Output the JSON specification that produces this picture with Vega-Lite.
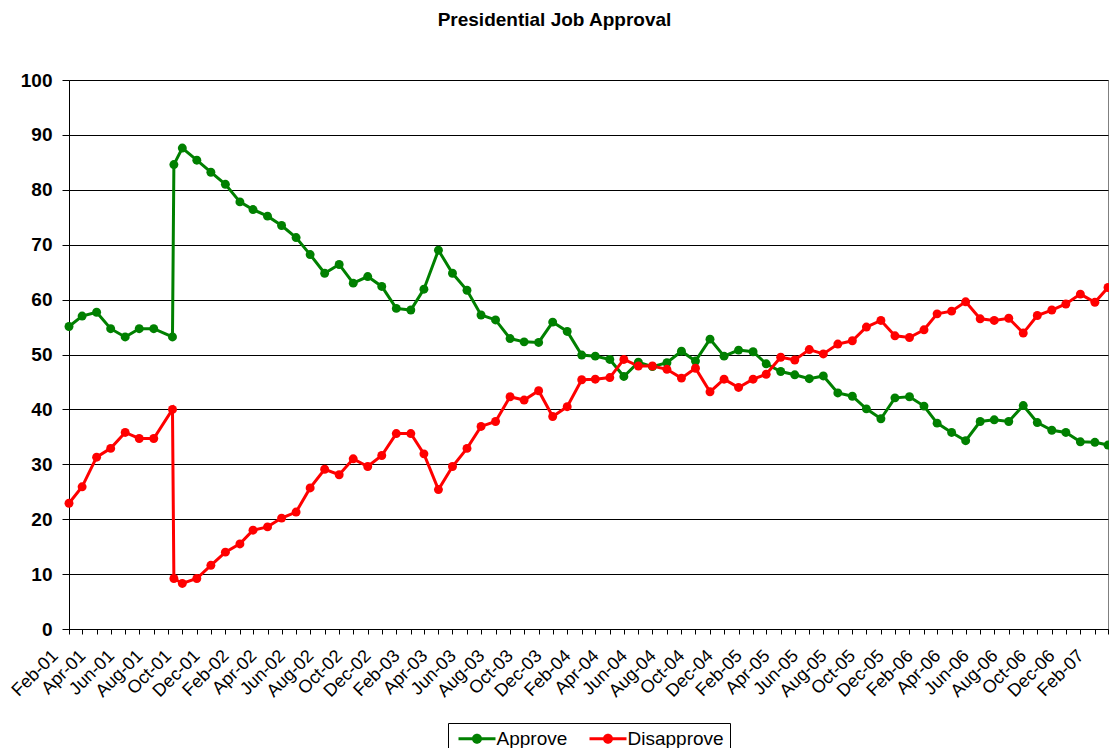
{
  "$schema": "https://vega.github.io/schema/vega-lite/v6.json",
  "autosize": "none",
  "width": 1039,
  "height": 549,
  "padding": {"left": 69, "top": 80, "right": 1, "bottom": 119},
  "background": "white",
  "config": {
    "font": "Liberation Sans",
    "view": {"stroke": "#808080", "strokeWidth": 1}
  },
  "title": {
    "text": "Presidential Job Approval",
    "fontSize": 19,
    "fontWeight": "bold",
    "color": "#000",
    "baseline": "alphabetic",
    "dx": -34,
    "offset": 26
  },
  "data": {
    "values": [
      {"date": "2001-02-01", "Approve": 55.1, "Disapprove": 22.9},
      {"date": "2001-03-01", "Approve": 57.0, "Disapprove": 25.9},
      {"date": "2001-04-01", "Approve": 57.7, "Disapprove": 31.3},
      {"date": "2001-05-01", "Approve": 54.7, "Disapprove": 32.9},
      {"date": "2001-06-01", "Approve": 53.2, "Disapprove": 35.8},
      {"date": "2001-07-01", "Approve": 54.7, "Disapprove": 34.7},
      {"date": "2001-08-01", "Approve": 54.7, "Disapprove": 34.7},
      {"date": "2001-09-10", "Approve": 53.2, "Disapprove": 40.0},
      {"date": "2001-09-13", "Approve": 84.6, "Disapprove": 9.2},
      {"date": "2001-10-01", "Approve": 87.6, "Disapprove": 8.3},
      {"date": "2001-11-01", "Approve": 85.4, "Disapprove": 9.2},
      {"date": "2001-12-01", "Approve": 83.2, "Disapprove": 11.6},
      {"date": "2002-01-01", "Approve": 81.0, "Disapprove": 14.0},
      {"date": "2002-02-01", "Approve": 77.8, "Disapprove": 15.5},
      {"date": "2002-03-01", "Approve": 76.4, "Disapprove": 18.0},
      {"date": "2002-04-01", "Approve": 75.2, "Disapprove": 18.6},
      {"date": "2002-05-01", "Approve": 73.5, "Disapprove": 20.2},
      {"date": "2002-06-01", "Approve": 71.3, "Disapprove": 21.3},
      {"date": "2002-07-01", "Approve": 68.2, "Disapprove": 25.7},
      {"date": "2002-08-01", "Approve": 64.8, "Disapprove": 29.1},
      {"date": "2002-09-01", "Approve": 66.4, "Disapprove": 28.1},
      {"date": "2002-10-01", "Approve": 63.0, "Disapprove": 31.0},
      {"date": "2002-11-01", "Approve": 64.2, "Disapprove": 29.6},
      {"date": "2002-12-01", "Approve": 62.4, "Disapprove": 31.6},
      {"date": "2003-01-01", "Approve": 58.4, "Disapprove": 35.6},
      {"date": "2003-02-01", "Approve": 58.1, "Disapprove": 35.6},
      {"date": "2003-03-01", "Approve": 61.9, "Disapprove": 31.9},
      {"date": "2003-04-01", "Approve": 69.0, "Disapprove": 25.4},
      {"date": "2003-05-01", "Approve": 64.8, "Disapprove": 29.6},
      {"date": "2003-06-01", "Approve": 61.7, "Disapprove": 32.9},
      {"date": "2003-07-01", "Approve": 57.2, "Disapprove": 36.9},
      {"date": "2003-08-01", "Approve": 56.3, "Disapprove": 37.8},
      {"date": "2003-09-01", "Approve": 52.9, "Disapprove": 42.3},
      {"date": "2003-10-01", "Approve": 52.3, "Disapprove": 41.7},
      {"date": "2003-11-01", "Approve": 52.2, "Disapprove": 43.4},
      {"date": "2003-12-01", "Approve": 55.9, "Disapprove": 38.7},
      {"date": "2004-01-01", "Approve": 54.2, "Disapprove": 40.5},
      {"date": "2004-02-01", "Approve": 49.9, "Disapprove": 45.4},
      {"date": "2004-03-01", "Approve": 49.7, "Disapprove": 45.5},
      {"date": "2004-04-01", "Approve": 49.1, "Disapprove": 45.8},
      {"date": "2004-05-01", "Approve": 46.0, "Disapprove": 49.1},
      {"date": "2004-06-01", "Approve": 48.6, "Disapprove": 47.9},
      {"date": "2004-07-01", "Approve": 47.8, "Disapprove": 47.9},
      {"date": "2004-08-01", "Approve": 48.5, "Disapprove": 47.3},
      {"date": "2004-09-01", "Approve": 50.6, "Disapprove": 45.7},
      {"date": "2004-10-01", "Approve": 48.8, "Disapprove": 47.5},
      {"date": "2004-11-01", "Approve": 52.8, "Disapprove": 43.2},
      {"date": "2004-12-01", "Approve": 49.7, "Disapprove": 45.5},
      {"date": "2005-01-01", "Approve": 50.8, "Disapprove": 44.0},
      {"date": "2005-02-01", "Approve": 50.5, "Disapprove": 45.5},
      {"date": "2005-03-01", "Approve": 48.3, "Disapprove": 46.4},
      {"date": "2005-04-01", "Approve": 46.9, "Disapprove": 49.5},
      {"date": "2005-05-01", "Approve": 46.3, "Disapprove": 49.0},
      {"date": "2005-06-01", "Approve": 45.6, "Disapprove": 50.9},
      {"date": "2005-07-01", "Approve": 46.1, "Disapprove": 50.1},
      {"date": "2005-08-01", "Approve": 43.0, "Disapprove": 51.9},
      {"date": "2005-09-01", "Approve": 42.4, "Disapprove": 52.5},
      {"date": "2005-10-01", "Approve": 40.1, "Disapprove": 55.0},
      {"date": "2005-11-01", "Approve": 38.3, "Disapprove": 56.2},
      {"date": "2005-12-01", "Approve": 42.1, "Disapprove": 53.4},
      {"date": "2006-01-01", "Approve": 42.3, "Disapprove": 53.1},
      {"date": "2006-02-01", "Approve": 40.6, "Disapprove": 54.5},
      {"date": "2006-03-01", "Approve": 37.5, "Disapprove": 57.4},
      {"date": "2006-04-01", "Approve": 35.8, "Disapprove": 57.9},
      {"date": "2006-05-01", "Approve": 34.3, "Disapprove": 59.6},
      {"date": "2006-06-01", "Approve": 37.8, "Disapprove": 56.5},
      {"date": "2006-07-01", "Approve": 38.1, "Disapprove": 56.2},
      {"date": "2006-08-01", "Approve": 37.8, "Disapprove": 56.6},
      {"date": "2006-09-01", "Approve": 40.7, "Disapprove": 53.9},
      {"date": "2006-10-01", "Approve": 37.6, "Disapprove": 57.1},
      {"date": "2006-11-01", "Approve": 36.2, "Disapprove": 58.1},
      {"date": "2006-12-01", "Approve": 35.8, "Disapprove": 59.2},
      {"date": "2007-01-01", "Approve": 34.1, "Disapprove": 61.0},
      {"date": "2007-02-01", "Approve": 34.0, "Disapprove": 59.5},
      {"date": "2007-03-01", "Approve": 33.5, "Disapprove": 62.2}
    ]
  },
  "transform": [
    {"fold": ["Approve", "Disapprove"], "as": ["series", "value"]}
  ],
  "mark": {
    "type": "line",
    "strokeWidth": 3,
    "point": {"filled": true, "size": 80}
  },
  "encoding": {
    "x": {
      "field": "date",
      "type": "temporal",
      "scale": {
        "type": "utc",
        "domain": [
          {"year": 2001, "month": 2, "date": 1, "utc": true},
          {"year": 2007, "month": 3, "date": 1, "utc": true}
        ],
        "nice": false
      },
      "axis": {
        "title": null,
        "grid": false,
        "format": "%b-%y",
        "tickCount": {"interval": "month", "step": 1},
        "labelExpr": "utcmonth(datum.value) % 2 == 1 ? datum.label : ''",
        "labelAngle": -45,
        "labelAlign": "right",
        "labelBaseline": "middle",
        "labelFontSize": 18,
        "labelColor": "#000",
        "labelOverlap": false,
        "labelFlush": false,
        "labelOffset": -14,
        "labelPadding": 19,
        "tickSize": 5,
        "tickColor": "#000",
        "domainColor": "#000"
      }
    },
    "y": {
      "field": "value",
      "type": "quantitative",
      "scale": {"domain": [0, 100], "nice": false},
      "axis": {
        "title": null,
        "values": [0, 10, 20, 30, 40, 50, 60, 70, 80, 90, 100],
        "labelFontSize": 19,
        "labelFontWeight": "bold",
        "labelColor": "#000",
        "labelPadding": 10,
        "tickSize": 7,
        "tickColor": "#000",
        "domainColor": "#000",
        "gridColor": "#000",
        "gridOpacity": 1
      }
    },
    "color": {
      "field": "series",
      "type": "nominal",
      "scale": {"domain": ["Approve", "Disapprove"], "range": ["#008000", "#ff0000"]},
      "legend": {
        "title": null,
        "orient": "none",
        "legendX": 379,
        "legendY": 643,
        "direction": "horizontal",
        "strokeColor": "#000",
        "padding": 6,
        "symbolType": "M-3.7,-0.3H3.7V0.3H-3.7Z M1,0A1,1,0,1,1,-1,0A1,1,0,1,1,1,0Z",
        "symbolSize": 100,
        "symbolOffset": 13.5,
        "labelFontSize": 19,
        "labelColor": "#000",
        "labelOffset": 10,
        "columnPadding": 17,
        "encode": {
          "symbols": {
            "update": {
              "fill": {"scale": "color", "field": "value"},
              "strokeWidth": {"value": 0}
            }
          }
        }
      }
    }
  }
}
